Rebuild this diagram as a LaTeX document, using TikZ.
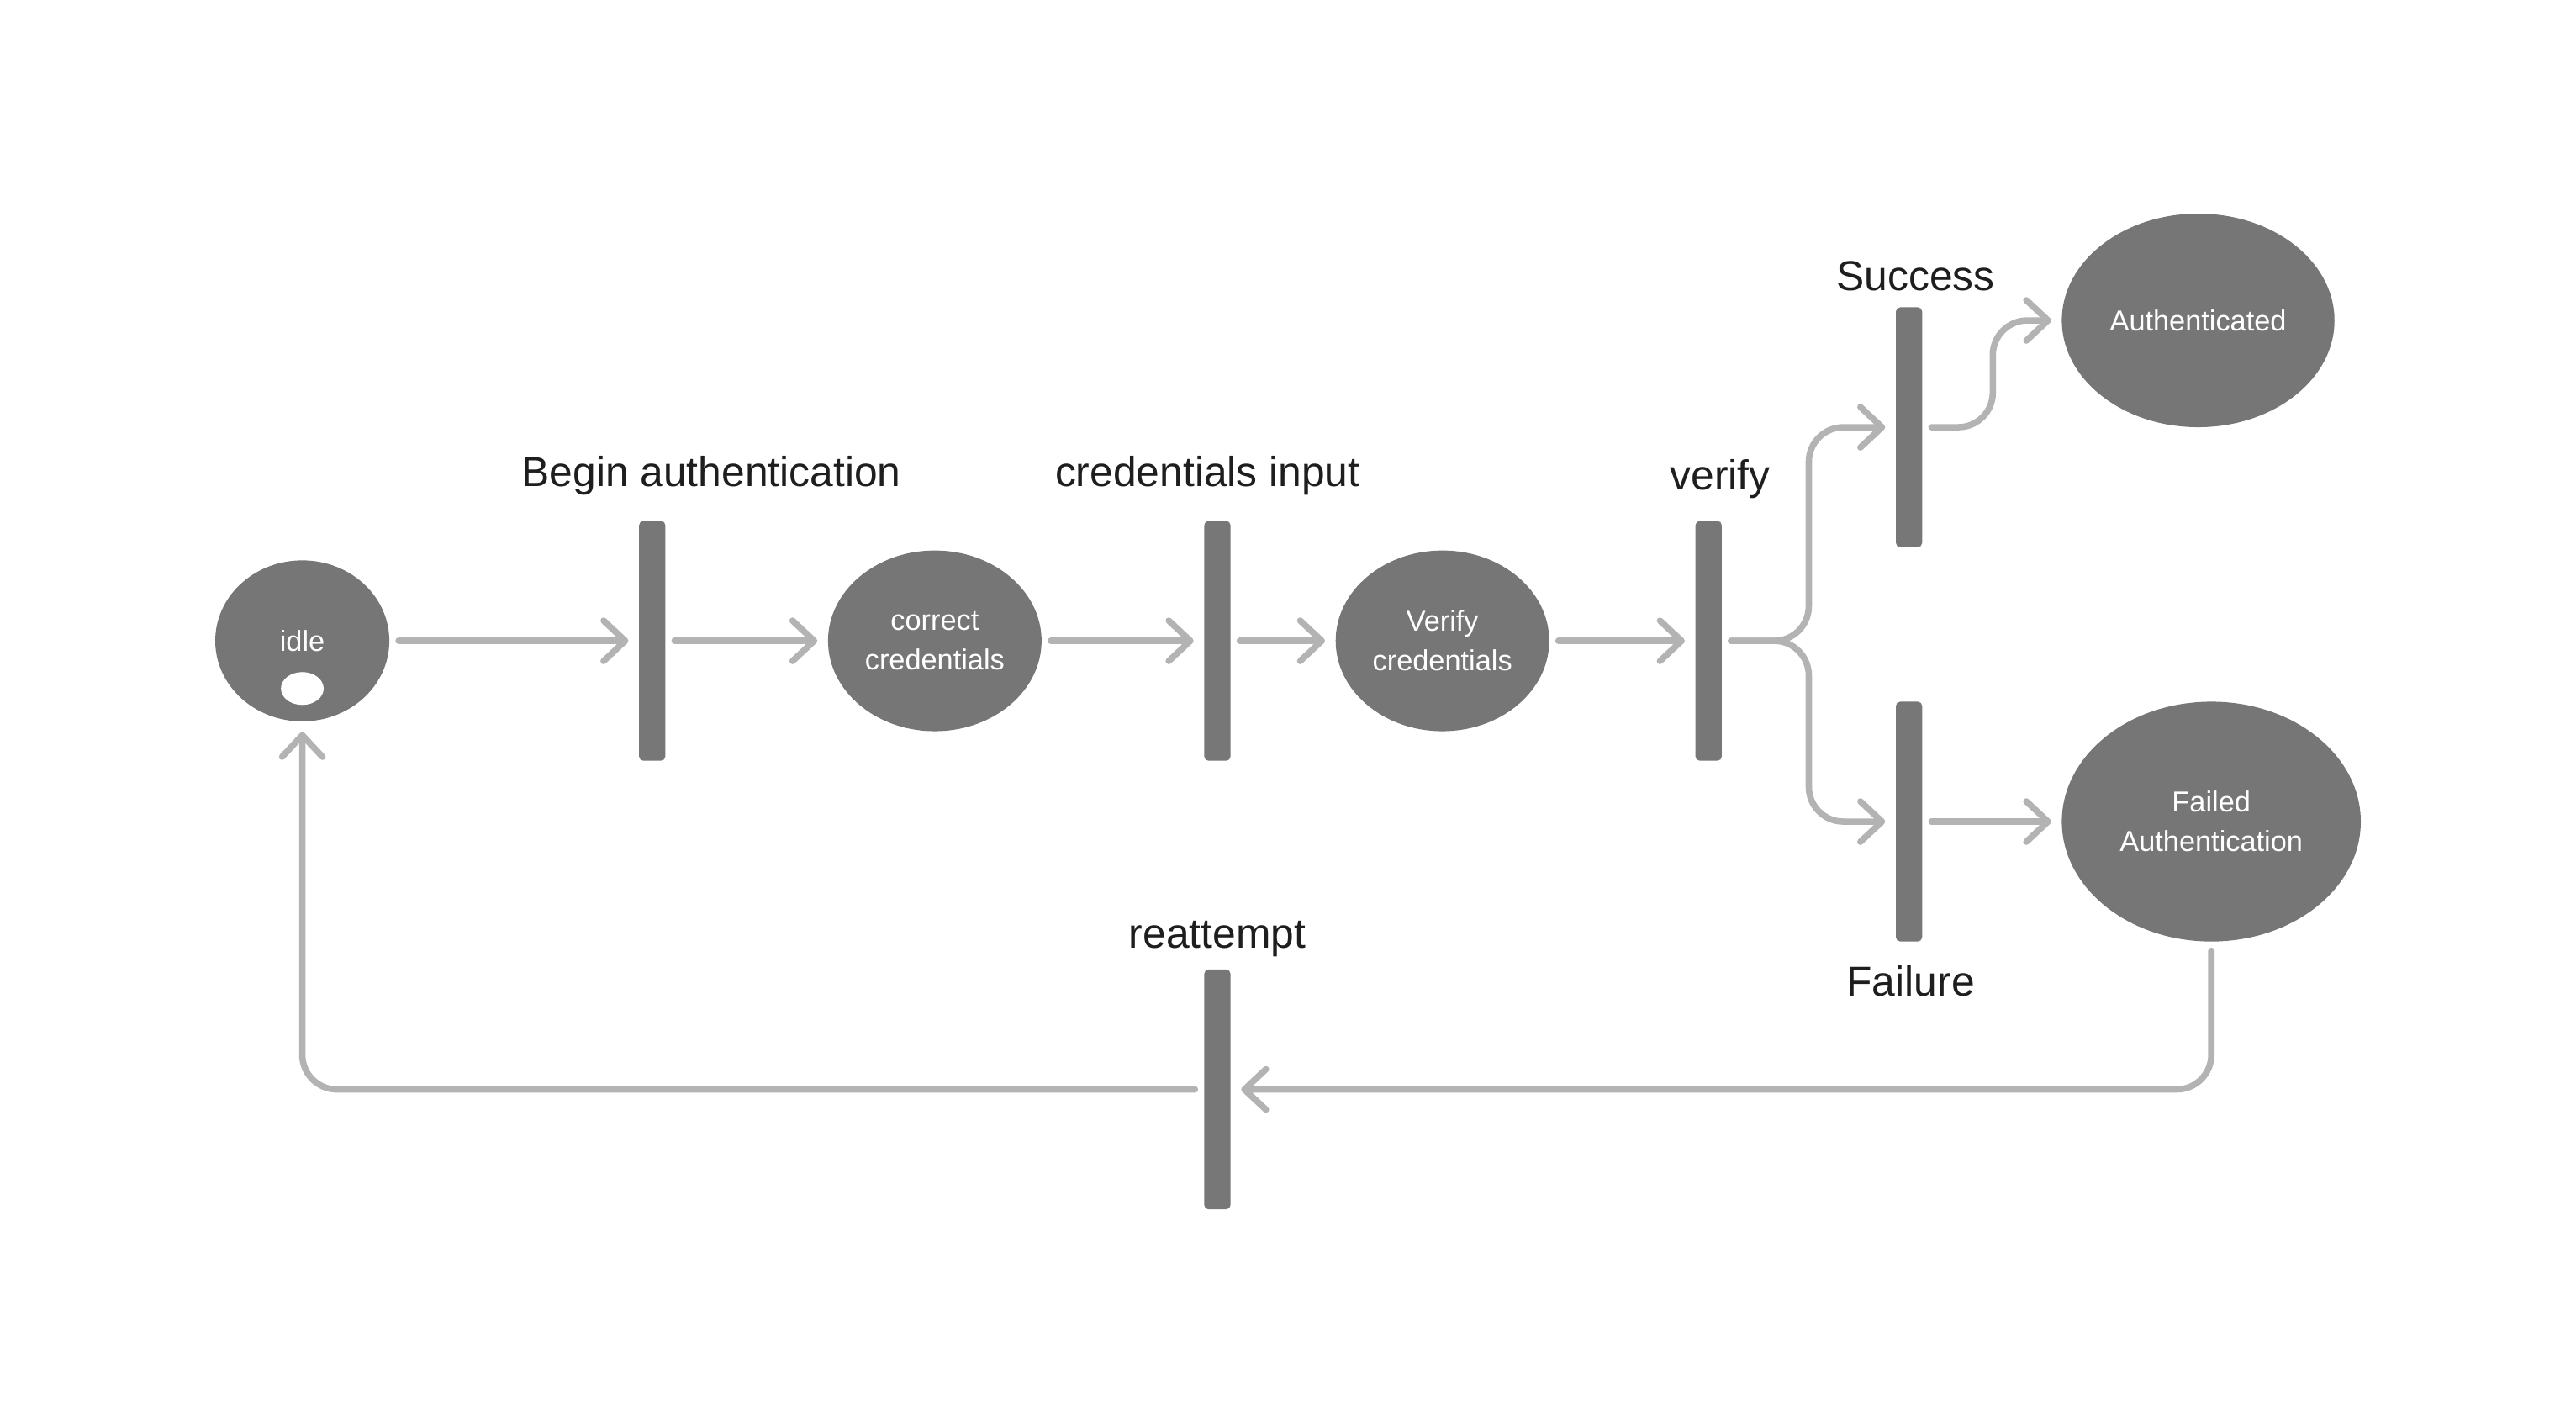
\documentclass[tikz,border=0pt]{standalone}
\usepackage{fontspec}
\setmainfont{Liberation Sans}
\definecolor{StateFill}{HTML}{767676}
\definecolor{BarFill}{HTML}{777777}
\definecolor{FlowLine}{HTML}{B3B3B3}
\definecolor{LabelText}{HTML}{1E1E1E}
\usetikzlibrary{calc, arrows.meta, shapes.geometric}

\tikzset{
    state/.style={ellipse, fill=StateFill, text=white, inner sep=0pt, align=center,
        font=\fontsize{10}{13.7}\selectfont},
    syncbar/.style={rectangle, fill=BarFill, rounded corners=1.5pt, inner sep=0pt,
        minimum width=0.32cm, minimum height=2.92cm},
    barlabel/.style={anchor=base, text=LabelText, font=\fontsize{14.5}{17}\selectfont},
    flow/.style={draw=FlowLine, line width=2.2pt, line cap=round, rounded corners=12pt,
        shorten <=3pt, shorten >=3.5pt, -{Straight Barb[length=7.5pt,width=14pt,round]}},
}

\begin{document}
\begin{tikzpicture}[x=0.02cm, y=-0.02cm]

    \useasboundingbox (0,0) rectangle (1568,868);

    % Dibujar estados
    \node[state, minimum width=2.12cm, minimum height=1.96cm] (idle) at (184,390) {idle};
    \node[ellipse, fill=white, inner sep=0pt, minimum width=0.52cm, minimum height=0.4cm] (idledot) at (184,419) {};
    \node[state, minimum width=2.6cm, minimum height=2.2cm] (correct) at (569,390) {correct\\credentials};
    \node[state, minimum width=2.6cm, minimum height=2.2cm] (verifycred) at (878,390) {Verify\\credentials};
    \node[state, minimum width=3.32cm, minimum height=2.6cm] (auth) at (1338,195) {Authenticated};
    \node[state, minimum width=3.64cm, minimum height=2.92cm] (failed) at (1346,500) {Failed\\Authentication};

    % Dibujar barras de transicion
    \node[syncbar] (beginbar) at (397,390) {};
    \node[syncbar] (inputbar) at (741,390) {};
    \node[syncbar] (verifybar) at (1040,390) {};
    \node[syncbar] (successbar) at (1162,260) {};
    \node[syncbar] (failurebar) at (1162,500) {};
    \node[syncbar] (retrybar) at (741,663) {};

    % Etiquetas
    \node[barlabel] (beginlbl) at (433,296) {Begin authentication};
    \node[barlabel] (inputlbl) at (735,296) {credentials input};
    \node[barlabel] (verifylbl) at (1047,298) {verify};
    \node[barlabel] (successlbl) at (1166,177) {Success};
    \node[barlabel] (failurelbl) at (1163,606) {Failure};
    \node[barlabel] (retrylbl) at (741,577) {reattempt};

    % Dibujar flechas
    \draw[flow] (idle) -- (beginbar);
    \draw[flow] (beginbar) -- (correct);
    \draw[flow] (correct) -- (inputbar);
    \draw[flow] (inputbar) -- (verifycred);
    \draw[flow] (verifycred) -- (verifybar);

    \coordinate (fork) at (1101,390);
    \draw[flow] (verifybar.east) -- (fork) |- (successbar.west);
    \draw[flow] (verifybar.east) -- (fork) |- (failurebar.west);

    \coordinate (bend) at (1213,260);
    \draw[flow] (successbar.east) -- (bend) |- (auth.west);
    \draw[flow] (failurebar) -- (failed);

    % Reintento
    \draw[flow] (failed.south) |- (retrybar.east);
    \draw[flow] (retrybar.west) -| (idle.south);

\end{tikzpicture}
\end{document}
